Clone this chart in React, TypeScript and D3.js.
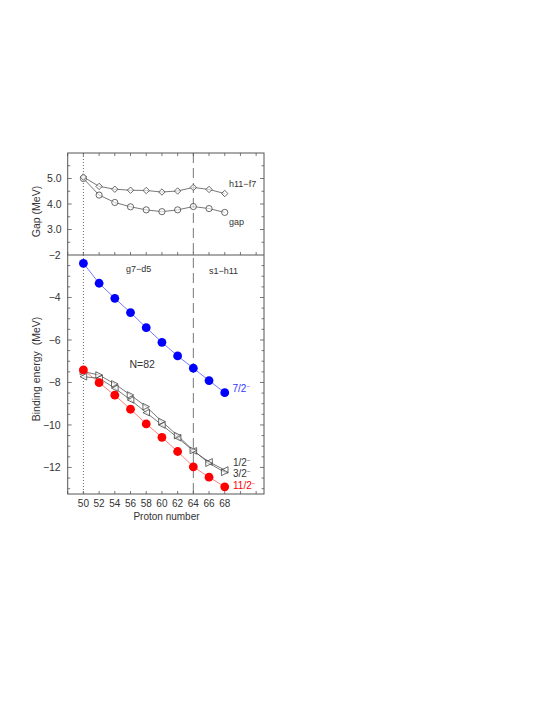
import * as d3 from 'd3'

// proton numbers
const protons = [50, 52, 54, 56, 58, 60, 62, 64, 66, 68]

// top panel (MeV)
const gapH11F7 = [5.06, 4.69, 4.58, 4.54, 4.53, 4.47, 4.51, 4.65, 4.57, 4.41]
const gapValues = [5.0, 4.35, 4.06, 3.89, 3.77, 3.7, 3.77, 3.9, 3.82, 3.67]

// bottom panel, binding energies (MeV)
const e72 = [-2.39, -3.33, -4.04, -4.71, -5.42, -6.11, -6.75, -7.33, -7.91, -8.48]
const e112 = [-7.41, -8.01, -8.6, -9.26, -9.95, -10.58, -11.25, -11.97, -12.46, -12.91]
const e12 = [-7.73, -7.8, -8.27, -8.82, -9.42, -10.0, -10.6, -11.22, -11.74, -12.12]
const e32 = [-7.49, -7.65, -8.07, -8.59, -9.14, -9.84, -10.5, -11.2, -11.8, -12.23]

const xTicks = [50, 52, 54, 56, 58, 60, 62, 64, 66, 68]
const topTicks = [5.0, 4.0, 3.0]
const botTicks = [-2, -4, -6, -8, -10, -12]

const W = 553
const H = 715
const L = 67.7
const R = 264
const T = 153
const MID = 255
const B = 494

const FONT = 'Liberation Sans, Arial, Helvetica, sans-serif'
const AX = '#555'
const TXT = '#333'

const x = d3.scaleLinear().domain([48, 73]).range([L, R])
const yTop = d3.scaleLinear().domain([2, 6]).range([MID, T])
const yBot = d3.scaleLinear().domain([-13.25, -2]).range([B, MID])

const minus = (s: string) => s.replace('-', '\u2212')

const Tri = ({ cx, cy, dir, s = 3.3 }: { cx: number; cy: number; dir: number; s?: number }) => {
  const p = [
    [cx + dir * s, cy],
    [cx - dir * s, cy - s],
    [cx - dir * s, cy + s],
  ]
  return <polygon points={p.map((q) => q.join(',')).join(' ')} fill='white' fillOpacity={0.6} stroke='#444' strokeWidth={0.8} />
}

const Diamond = ({ cx, cy, s = 3.2 }: { cx: number; cy: number; s?: number }) => (
  <polygon
    points={`${cx},${cy - s} ${cx + s},${cy} ${cx},${cy + s} ${cx - s},${cy}`}
    fill='white'
    fillOpacity={0.6}
    stroke='#444'
    strokeWidth={0.8}
  />
)

export default function App() {
  const lineTop = (vals: number[]) =>
    d3.line<number>().x((_, i) => x(protons[i])).y((d) => yTop(d))(vals) || ''
  const lineBot = (vals: number[]) =>
    d3.line<number>().x((_, i) => x(protons[i])).y((d) => yBot(d))(vals) || ''

  const xMajor = d3.range(48, 73, 2)
  const topMinor = d3.range(2.5, 6, 0.5)
  const botMinor = d3.range(-13, -2, 0.5)

  return (
    <div style={{ position: 'absolute', left: 0, top: 0 }}>
      <svg width={W} height={H} style={{ display: 'block', background: 'white' }} fontFamily={FONT}>
        {/* reference lines */}
        <line x1={x(50)} x2={x(50)} y1={T} y2={B} stroke='#444' strokeWidth={0.8} strokeDasharray='1,2' />
        <line x1={x(64)} x2={x(64)} y1={T} y2={B} stroke='#777' strokeWidth={1} strokeDasharray='10,5' />

        {/* ticks */}
        {xMajor.map((v) => (
          <g key={'xt' + v} stroke={AX} strokeWidth={0.8}>
            <line x1={x(v)} x2={x(v)} y1={T} y2={T + 3} />
            <line x1={x(v)} x2={x(v)} y1={MID} y2={MID - 3} />
            <line x1={x(v)} x2={x(v)} y1={B} y2={B - 3} />
          </g>
        ))}
        {topMinor.map((v) => (
          <g key={'ty' + v} stroke={AX} strokeWidth={0.8}>
            <line x1={L} x2={L + (v % 1 === 0 ? 4 : 2.5)} y1={yTop(v)} y2={yTop(v)} />
            <line x1={R} x2={R - (v % 1 === 0 ? 4 : 2.5)} y1={yTop(v)} y2={yTop(v)} />
          </g>
        ))}
        {botMinor.map((v) => (
          <g key={'by' + v} stroke={AX} strokeWidth={0.8}>
            <line x1={L} x2={L + (v % 2 === 0 ? 4 : 2.5)} y1={yBot(v)} y2={yBot(v)} />
            <line x1={R} x2={R - (v % 2 === 0 ? 4 : 2.5)} y1={yBot(v)} y2={yBot(v)} />
          </g>
        ))}

        {/* frame */}
        <rect x={L} y={T} width={R - L} height={B - T} fill='none' stroke={AX} strokeWidth={1} />
        <line x1={L} x2={R} y1={MID} y2={MID} stroke={AX} strokeWidth={1} />

        {/* tick labels */}
        {topTicks.map((v) => (
          <text key={'tl' + v} x={L - 6} y={yTop(v)} dy='0.35em' textAnchor='end' fontSize={10.5} fill={TXT}>
            {v.toFixed(1)}
          </text>
        ))}
        {botTicks.map((v) => (
          <text key={'bl' + v} x={L - 7} y={yBot(v)} dy='0.35em' textAnchor='end' fontSize={10.5} fill={TXT}>
            {minus(String(v))}
          </text>
        ))}
        {xTicks.map((v) => (
          <text key={'xl' + v} x={x(v)} y={B + 9} dy='0.35em' textAnchor='middle' fontSize={10} fill={TXT}>
            {v}
          </text>
        ))}

        {/* axis titles */}
        <text x={166.5} y={520} textAnchor='middle' fontSize={10} fill={TXT}>
          Proton number
        </text>
        <text transform='translate(40,211.5) rotate(-90)' textAnchor='middle' fontSize={10.5} fill={TXT}>
          Gap (MeV)
        </text>
        <text
          transform='translate(40,369) rotate(-90)'
          textAnchor='middle'
          fontSize={10.5}
          fill={TXT}
          style={{ whiteSpace: 'pre' }}
        >
          {'Binding energy  (MeV)'}
        </text>

        {/* top panel */}
        <path d={lineTop(gapH11F7)} fill='none' stroke='#555' strokeWidth={0.8} />
        <path d={lineTop(gapValues)} fill='none' stroke='#555' strokeWidth={0.8} />
        {gapValues.map((v, i) => (
          <circle key={'g' + i} cx={x(protons[i])} cy={yTop(v)} r={3.1} fill='white' fillOpacity={0.6} stroke='#444' strokeWidth={0.8} />
        ))}
        {gapH11F7.map((v, i) => (
          <Diamond key={'h' + i} cx={x(protons[i])} cy={yTop(v)} />
        ))}
        <text x={229} y={187} fontSize={9} fill={TXT}>
          h11{'\u2212'}f7
        </text>
        <text x={229} y={225} fontSize={9} fill={TXT}>
          gap
        </text>

        {/* bottom panel */}
        <text x={126} y={272} fontSize={9} fill={TXT}>
          g7{'\u2212'}d5
        </text>
        <text x={209} y={274} fontSize={9} fill={TXT}>
          s1{'\u2212'}h11
        </text>
        <text x={129.5} y={368} fontSize={10.5} fill={TXT}>
          N=82
        </text>

        <path d={lineBot(e72)} fill='none' stroke='#6a6aff' strokeWidth={0.9} />
        <path d={lineBot(e112)} fill='none' stroke='#ff7070' strokeWidth={0.9} />
        <path d={lineBot(e12)} fill='none' stroke='#555' strokeWidth={0.8} />
        <path d={lineBot(e32)} fill='none' stroke='#555' strokeWidth={0.8} />

        {e12.map((v, i) => (
          <Tri key={'a' + i} cx={x(protons[i])} cy={yBot(v)} dir={-1} />
        ))}
        {e32.map((v, i) => (
          <Tri key={'b' + i} cx={x(protons[i])} cy={yBot(v)} dir={1} />
        ))}
        {e72.map((v, i) => (
          <circle key={'c' + i} cx={x(protons[i])} cy={yBot(v)} r={4.4} fill='#0000ff' />
        ))}
        {e112.map((v, i) => (
          <circle key={'d' + i} cx={x(protons[i])} cy={yBot(v)} r={4.4} fill='#ff0000' />
        ))}

        {/* state labels */}
        <text x={232.5} y={392} fontSize={10} fill='#3333ff'>
          7/2<tspan dy={-4} fontSize={6}>{'\u2212'}</tspan>
        </text>
        <text x={233} y={465.5} fontSize={10} fill={TXT}>
          1/2<tspan dy={-4} fontSize={6}>{'\u2212'}</tspan>
        </text>
        <text x={233} y={477} fontSize={10} fill={TXT}>
          3/2<tspan dy={-4} fontSize={6}>{'\u2212'}</tspan>
        </text>
        <text x={233} y={489} fontSize={10} fill='#ff0000'>
          11/2<tspan dy={-4} fontSize={6}>{'\u2212'}</tspan>
        </text>
      </svg>
    </div>
  )
}
